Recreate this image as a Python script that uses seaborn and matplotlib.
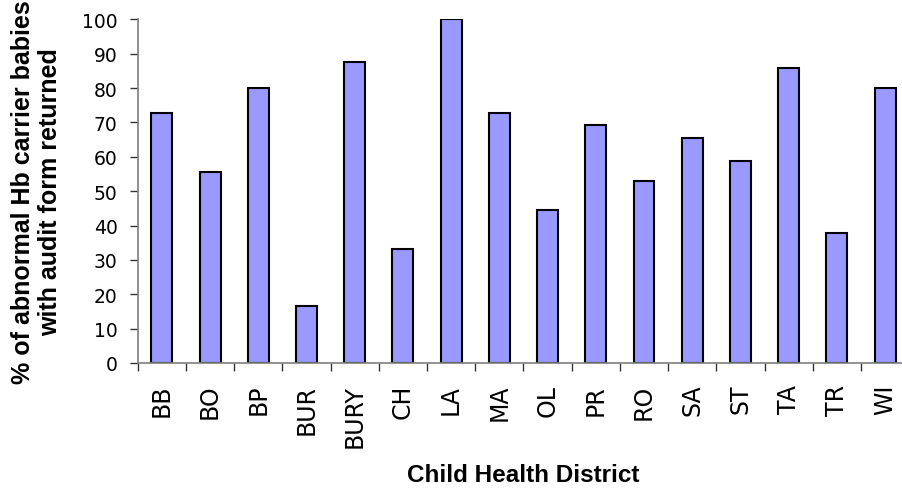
import matplotlib
matplotlib.use("Agg")
import matplotlib.pyplot as plt
import numpy as np
import pandas as pd
import seaborn as sns
from matplotlib.ticker import FixedLocator

# Child health districts and share of abnormal Hb carrier babies with audit form returned (%)
districts = ["BB", "BO", "BP", "BUR", "BURY", "CH", "LA", "MA",
             "OL", "PR", "RO", "SA", "ST", "TA", "TR", "WI"]
pct_returned = [72.7, 55.6, 80.0, 16.6, 87.5, 33.3, 100.0, 72.7,
                44.4, 69.3, 52.9, 65.6, 58.9, 85.7, 37.7, 80.0]
y_ticks = list(range(0, 101, 10))

sns.set_style("white")
plt.rcParams["font.family"] = ["DejaVu Sans"]
plt.rcParams["text.color"] = "black"
plt.rcParams["axes.labelcolor"] = "black"

W, H = 903, 489
fig = plt.figure(figsize=(W / 100, H / 100), dpi=100)
left_px, right_px, top_px, bottom_px = 137.7, 909.2, 20.3, 364.0
ax = fig.add_axes([left_px / W, 1 - bottom_px / H,
                   (right_px - left_px) / W, (bottom_px - top_px) / H])

df = pd.DataFrame({"district": districts, "pct": pct_returned})
sns.barplot(data=df, x="district", y="pct", color="#9999FF", saturation=1,
            edgecolor="black", linewidth=1.5, width=0.435, ax=ax)

n = len(districts)
ax.set_xlim(-0.5, n - 0.5)
ax.set_ylim(0, 100)
ax.set_yticks(y_ticks)
ax.set_yticklabels([str(v) for v in y_ticks])

# category separators as small ticks below the axis
ax.xaxis.set_minor_locator(FixedLocator(np.arange(-0.5, n, 1.0)))
ax.tick_params(axis="x", which="major", length=0, pad=15, labelsize=17,
               labelrotation=90, bottom=True, labelcolor="black")
ax.tick_params(axis="x", which="minor", length=5.8, width=1.0,
               color="#333333", bottom=True, direction="out")
ax.tick_params(axis="y", which="major", length=5.5, width=1.0,
               color="#333333", left=True, pad=9, labelsize=13.5,
               direction="out", labelcolor="black")
for lbl in ax.get_xticklabels():
    lbl.set_verticalalignment("top")
    lbl.set_horizontalalignment("center")

for side in ("top", "right"):
    ax.spines[side].set_visible(False)
for side in ("left", "bottom"):
    ax.spines[side].set_color("#7f7f7f")
    ax.spines[side].set_linewidth(1.2)

ax.set_ylabel("% of abnormal Hb carrier babies\nwith audit form returned",
              fontfamily="Liberation Sans", fontweight="bold", fontsize=18,
              linespacing=1.15, color="black")
ax.yaxis.label.set_verticalalignment("center")
ax.yaxis.set_label_coords(-(left_px - 36.5) / (right_px - left_px), 0.5)

ax.set_xlabel("Child Health District", fontfamily="Liberation Sans",
              fontweight="bold", fontsize=17.5, color="black")
ax.xaxis.label.set_verticalalignment("baseline")
ax.xaxis.set_label_coords(0.5, -(481.7 - bottom_px) / (bottom_px - top_px))

fig.savefig("out.png", dpi=100, facecolor="white")
